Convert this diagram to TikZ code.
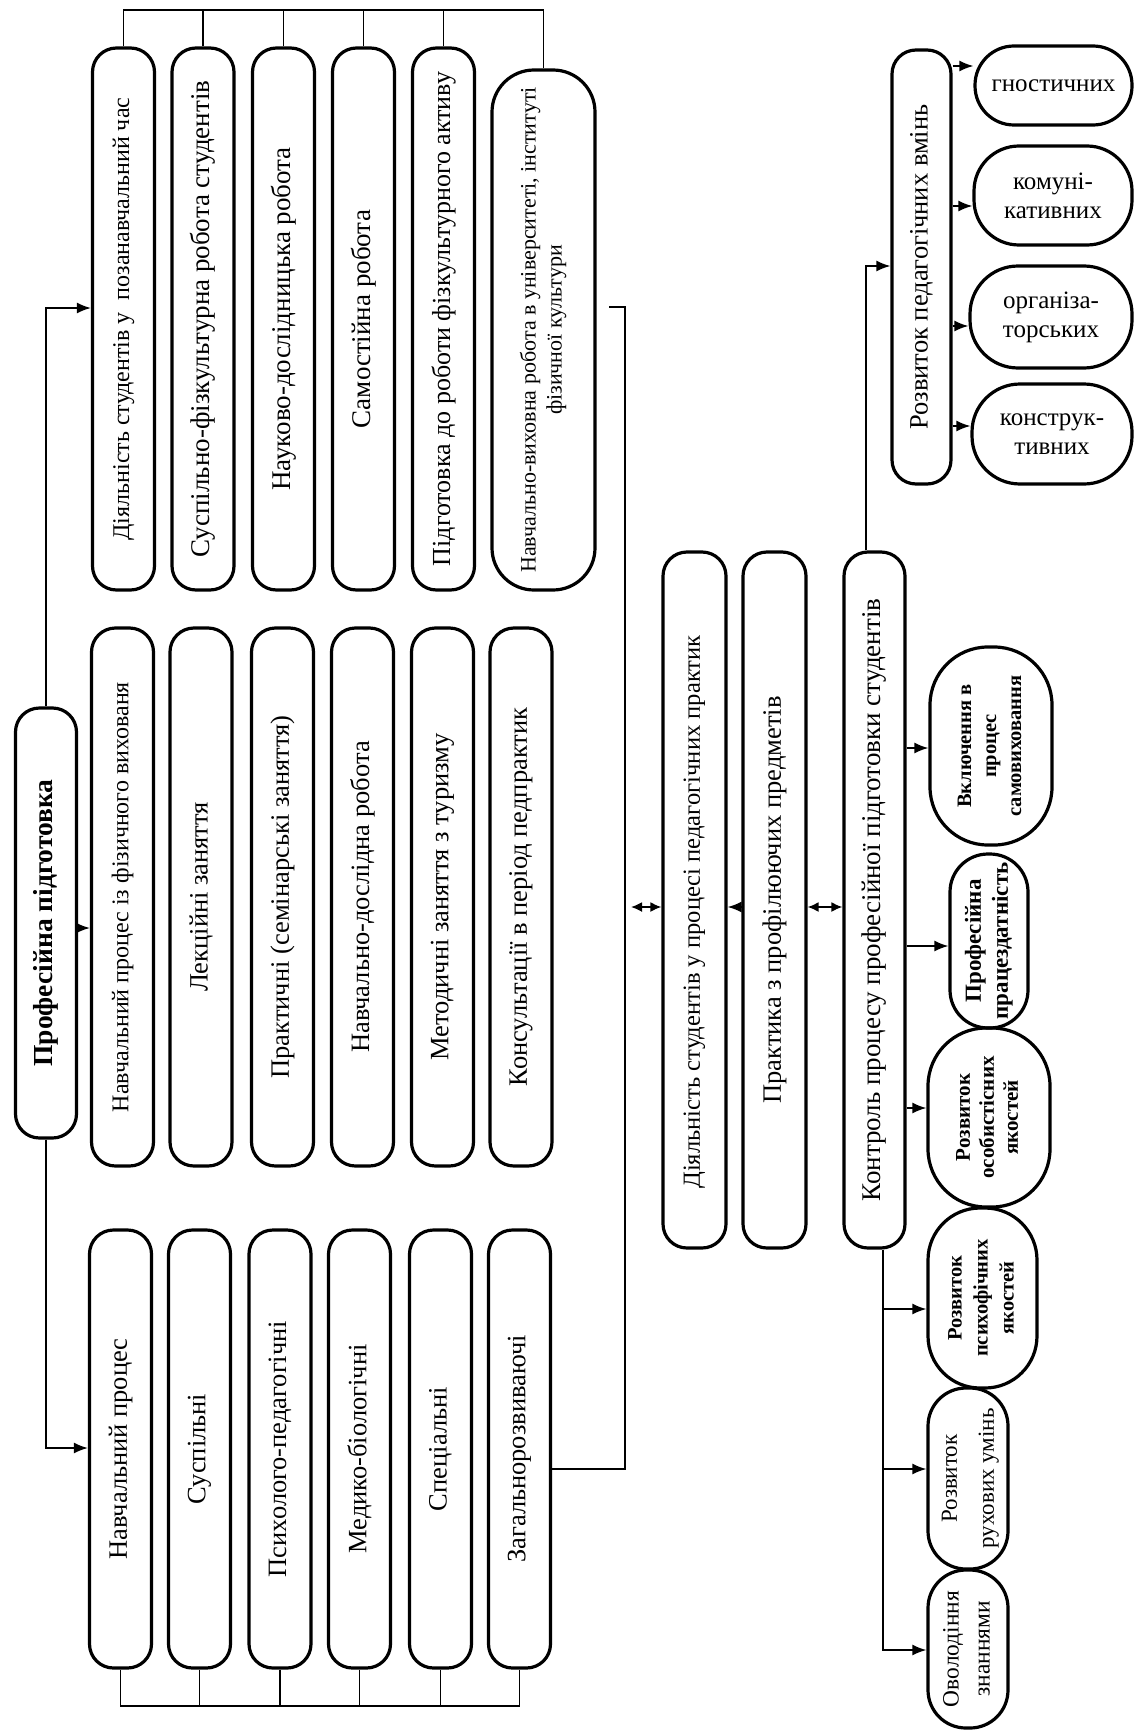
\documentclass[tikz,border=0pt]{standalone}
\usepackage{fontspec}
\setmainfont{Liberation Serif}
\usetikzlibrary{arrows.meta}
\newcommand{\vtxt}[1]{\rotatebox{90}{#1}}
\newcommand{\vtab}[1]{\rotatebox{90}{\begin{tabular}{@{}c@{}}#1\end{tabular}}}
\begin{document}
\begin{tikzpicture}[x=1pt,y=-1pt,
  rbox/.style={draw, line width=3.2pt, rounded corners=#1, inner sep=0pt, align=center, font=\fontsize{26.5}{30}\selectfont},
  rbox/.default=24pt,
  col/.style={rbox, minimum width=62pt},
  gbox/.style={rbox=#1, font=\fontsize{25}{29}\selectfont},
  ln/.style={line width=1.7pt},
  arr/.style={line width=1.7pt, -{Latex[length=14pt,width=11pt]}},
  darr/.style={line width=1.7pt, {Latex[length=11pt,width=10pt]}-{Latex[length=11pt,width=10pt]}},
]
\useasboundingbox[fill=white] (0,0) rectangle (1135,1731);

% ---- group A (top row of columns)
\node[col, minimum height=542pt, font=\fontsize{24}{28}\selectfont] (A1) at (123.5,319) {\vtxt{Діяльність студентів у~~позанавчальний час}};
\node[col, minimum height=542pt, font=\fontsize{27}{30}\selectfont] (A2) at (203,319) {\vtxt{Суспільно-фізкультурна робота студентів}};
\node[col, minimum height=542pt, font=\fontsize{27}{30}\selectfont] (A3) at (283.5,319) {\vtxt{Науково-дослідницька робота}};
\node[col, minimum height=542pt, font=\fontsize{27}{30}\selectfont] (A4) at (363.5,319) {\vtxt{Самостійна робота}};
\node[col, minimum height=542pt, font=\fontsize{26}{30}\selectfont] (A5) at (443.5,319) {\vtxt{Підготовка до роботи фізкультурного активу}};
\node[rbox=42pt, minimum width=103pt, minimum height=520pt, font=\fontsize{22}{26}\selectfont] (A6) at (543.5,330) {\vtab{Навчально-виховна робота в університеті, інституті\\фізичної культури}};

% ---- group B
\node[col, minimum height=538pt, font=\fontsize{24}{28}\selectfont] (B1) at (122.5,897) {\vtxt{Навчальний процес із фізичного вихованя}};
\node[col, minimum height=538pt] (B2) at (201,897) {\vtxt{Лекційні заняття}};
\node[col, minimum height=538pt] (B3) at (282.5,897) {\vtxt{Практичні (семінарські заняття)}};
\node[col, minimum height=538pt] (B4) at (362.5,897) {\vtxt{Навчально-дослідна робота}};
\node[col, minimum height=538pt] (B5) at (442.5,897) {\vtxt{Методичні заняття з туризму}};
\node[col, minimum height=538pt] (B6) at (521,897) {\vtxt{Консультації в період педпрактик}};

% ---- group C
\node[col, minimum height=438pt] (C1) at (120.5,1449) {\vtxt{Навчальний процес}};
\node[col, minimum height=438pt] (C2) at (199.5,1449) {\vtxt{Суспільні}};
\node[col, minimum height=438pt] (C3) at (280,1449) {\vtxt{Психолого-педагогічні}};
\node[col, minimum height=438pt] (C4) at (359.5,1449) {\vtxt{Медико-біологічні}};
\node[col, minimum height=438pt] (C5) at (440.5,1449) {\vtxt{Спеціальні}};
\node[col, minimum height=438pt] (C6) at (519.5,1449) {\vtxt{Загальнорозвиваючі}};

% ---- main node
\node[rbox, minimum width=61pt, minimum height=430pt, font=\fontsize{27.5}{30}\selectfont\bfseries] (P) at (46,923) {\vtxt{Професійна підготовка}};

% ---- group D
\node[rbox, minimum width=63pt, minimum height=696pt, font=\fontsize{24.6}{28}\selectfont] (D1) at (694.5,900) {\vtxt{Діяльність студентів у процесі педагогічних практик\kern24pt}};
\node[rbox, minimum width=63pt, minimum height=696pt] (D2) at (774.5,900) {\vtxt{Практика з профілюючих предметів}};
\node[rbox, minimum width=61pt, minimum height=696pt, font=\fontsize{27}{30}\selectfont] (D3) at (874.5,900) {\vtxt{Контроль процесу професійної підготовки студентів}};

% ---- F and G
\node[rbox, minimum width=59pt, minimum height=434pt] (F) at (921.5,267) {\vtxt{Розвиток педагогічних вмінь}};
\node[gbox=39pt, minimum width=157pt, minimum height=79pt] (G1) at (1053.5,85.5) {гностичних};
\node[gbox=45pt, minimum width=158pt, minimum height=99pt] (G2) at (1053,195.5) {комуні-\\кативних};
\node[gbox=48pt, minimum width=162pt, minimum height=102pt] (G3) at (1051,317) {організа-\\торських};
\node[gbox=48pt, minimum width=160pt, minimum height=100pt] (G4) at (1052,434) {конструк-\\тивних};

% ---- group E
\node[rbox=58pt, minimum width=122pt, minimum height=198pt, font=\fontsize{20.5}{25}\selectfont\bfseries] (E1) at (991,746) {\vtab{Включення в\\процес\\самовиховання}};
\node[rbox=38pt, minimum width=78pt, minimum height=174pt, font=\fontsize{23}{27}\selectfont\bfseries] (E2) at (989,941) {\vtab{Професійна\\працездатність}};
\node[rbox=58pt, minimum width=122pt, minimum height=179pt, font=\fontsize{21}{24}\selectfont\bfseries] (E3) at (989,1117.5) {\vtab{Розвиток\\особистісних\\якостей}};
\node[rbox=52pt, minimum width=109pt, minimum height=180pt, font=\fontsize{20.5}{26}\selectfont\bfseries] (E4) at (982.5,1298) {\vtab{Розвиток\\психофічних\\якостей}};
\node[rbox=38pt, minimum width=80pt, minimum height=181pt, font=\fontsize{23}{37}\selectfont] (E5) at (968,1478.5) {\vtab{Розвиток\\рухових умінь}};
\node[rbox=38pt, minimum width=80pt, minimum height=158pt, font=\fontsize{23.4}{31}\selectfont] (E6) at (968,1649) {\vtab{Оволодіння\\знаннями}};

% ---- connectors: combs
\coordinate (topY) at (0,10);
\draw[ln] (A1.north) -- (A1.north |- topY) -- (A6.north |- topY) -- (A6.north);
\foreach \n in {A2,A3,A4,A5} \draw[ln] (\n.north) -- (\n.north |- topY);
\coordinate (botY) at (0,1706);
\draw[ln] (C1.south) -- (C1.south |- botY) -- (C6.south |- botY) -- (C6.south);
\foreach \n in {C2,C3,C4,C5} \draw[ln] (\n.south) -- (\n.south |- botY);

% ---- left spine
\coordinate (sp1) at (0,308);
\coordinate (sp2) at (0,1448);
\coordinate (sp3) at (0,928);
\draw[arr] (P.north) -- (P.north |- sp1) -- (A1.west |- sp1);
\draw[arr] (P.south) -- (P.south |- sp2) -- (C1.west |- sp2);
\draw[arr] (P.east |- sp3) -- (B1.west |- sp3);

% ---- right bracket from C6 to A6
\coordinate (cj) at (625,307);
\coordinate (cjb) at (0,1469);
\coordinate (a6r) at ([xshift=12pt]A6.east);
\draw[ln] (C6.east |- cjb) -| (cj) -- (a6r |- cj);

% ---- arrows between spine and D boxes
\coordinate (bl) at (631,907);
\draw[darr] (bl) -- (D1.west |- bl);
\draw[arr] (D2.west |- bl) -- (D1.east |- bl);
\draw[darr] (D2.east |- bl) -- (D3.west |- bl);

% ---- D3 to F
\coordinate (d3t) at ([xshift=-8.5pt]D3.north);
\coordinate (fy) at (0,266);
\draw[arr] (d3t) |- (F.west |- fy);

% ---- F to G
\foreach \g/\yy in {G1/66, G2/206, G3/326, G4/426}
  \draw[arr] (F.east |- 0,\yy) -- (\g.west |- 0,\yy);

% ---- D3 to E
\draw[arr] (D3.east |- 0,748) -- (E1.west |- 0,748);
\draw[arr] (D3.east |- 0,946) -- (E2.west |- 0,946);
\draw[arr] (D3.east |- 0,1108) -- (E3.west |- 0,1108);
\coordinate (d3b) at ([xshift=8.5pt]D3.south);
\draw[arr] (d3b) |- (E6.west |- 0,1650);
\draw[arr] (d3b |- 0,1309) -- (E4.west |- 0,1309);
\draw[arr] (d3b |- 0,1469) -- (E5.west |- 0,1469);
\end{tikzpicture}
\end{document}
